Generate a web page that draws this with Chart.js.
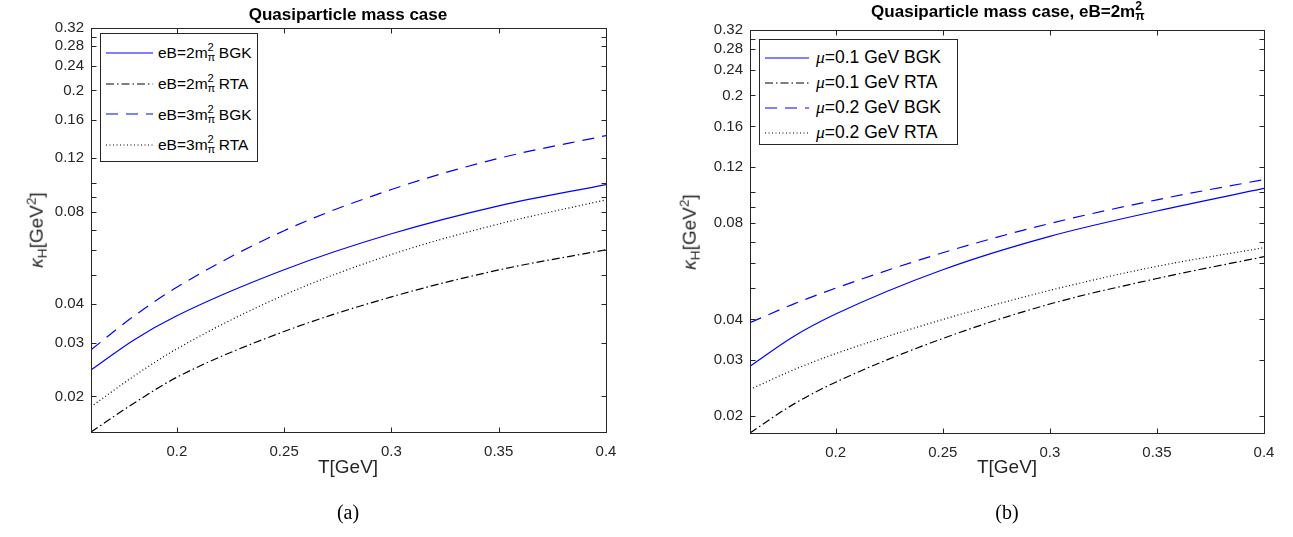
<!doctype html>
<html lang="en">

<head>
    <meta charset="utf-8">
    <title>Quasiparticle mass case</title>
    <script src="https://cdn.jsdelivr.net/npm/chart.js"></script>
    <style>
        body { margin: 0; background: #fff; font-family: "Liberation Sans", Arial, sans-serif; color: #262626; }
        #wrap { position: relative; width: 1293px; height: 537px; overflow: hidden; background: #fff; }
        canvas { position: absolute; top: 0; }
        .txt { position: absolute; white-space: nowrap; line-height: 1; }
        .title { font-weight: bold; font-size: 17px; color: #000; transform: translateX(-50%); }
        .xlab { font-size: 19px; transform: translateX(-50%); }
        .ylab { font-size: 19px; transform: translate(-50%, -50%) rotate(-90deg); }
        .cap { font-family: "Liberation Serif", serif; font-size: 20px; color: #000; transform: translateX(-50%); }
        .legend { position: absolute; box-sizing: border-box; border: 1px solid #262626; background: #fff; color: #000; line-height: 1; }
        .legend .row { position: absolute; left: 5px; display: flex; align-items: center; white-space: nowrap; }
        .legend svg { display: block; }
        .ss { display: inline-block; position: relative; width: .45em; height: 0; }
        .ss .sp, .ss .sb { position: absolute; left: 0; font-size: .72em; line-height: 1; }
        .ss .sp { bottom: .43em; }
        .ss .sb { top: -.54em; }
        .mu { font-family: "Liberation Serif", serif; font-style: italic; }
        sub.h { font-size: .72em; vertical-align: -.3em; }
        sup.g { font-size: .72em; vertical-align: .5em; }
    </style>
</head>

<body>
    <div id="wrap">
        <canvas id="chartA" width="650" height="537" style="left:0"></canvas>
        <canvas id="chartB" width="643" height="537" style="left:650px"></canvas>
    </div>

    <script>
        // temperature grid (GeV)
        const temps = [0.16, 0.18, 0.2, 0.25, 0.3, 0.35, 0.4];

        // panel (a): kappa_H for eB = 2 and 3 m_pi^2
        const bgk2 = [0.0244, 0.0306, 0.0367, 0.0519, 0.0680, 0.0839, 0.0985];
        const rta2 = [0.0153, 0.0190, 0.0231, 0.0326, 0.0423, 0.0518, 0.0603];
        const bgk3 = [0.0284, 0.0366, 0.0455, 0.0696, 0.0949, 0.1200, 0.1424];
        const rta3 = [0.0185, 0.0233, 0.0286, 0.0429, 0.0582, 0.0732, 0.0878];

        // panel (b): kappa_H for mu = 0.1 and 0.2 GeV
        const bgkMu1 = [0.0286, 0.0353, 0.0416, 0.0572, 0.0727, 0.0872, 0.1026];
        const rtaMu1 = [0.0177, 0.0217, 0.0255, 0.0349, 0.0447, 0.0537, 0.0628];
        const bgkMu2 = [0.0391, 0.0446, 0.0501, 0.0646, 0.0797, 0.0945, 0.1093];
        const rtaMu2 = [0.0242, 0.0278, 0.0313, 0.0400, 0.0493, 0.0586, 0.0670];

        const xTicks = [0.2, 0.25, 0.3, 0.35, 0.4];
        const yTicks = [0.02, 0.03, 0.04, 0.05, 0.06, 0.07, 0.08, 0.09, 0.1, 0.12, 0.16, 0.2, 0.24, 0.28, 0.3, 0.32];
        const yTickLabels = [0.02, 0.03, 0.04, 0.08, 0.12, 0.16, 0.2, 0.24, 0.28, 0.32];

        const ss = (a, b) => `<span class="ss"><span class="sp">${a}</span><span class="sb">${b}</span></span>`;
        const legendA = [`eB=2m${ss('2', 'π')} BGK`, `eB=2m${ss('2', 'π')} RTA`, `eB=3m${ss('2', 'π')} BGK`, `eB=3m${ss('2', 'π')} RTA`];
        const legendB = ['<i class="mu">μ</i>=0.1 GeV BGK', '<i class="mu">μ</i>=0.1 GeV RTA', '<i class="mu">μ</i>=0.2 GeV BGK', '<i class="mu">μ</i>=0.2 GeV RTA'];

        const AX = '#262626';
        Chart.defaults.font.family = '"Liberation Sans", Arial, sans-serif';

        const styles = [
            { borderColor: '#0000ff', borderDash: [] },
            { borderColor: '#000000', borderDash: [8, 3, 1.5, 3] },
            { borderColor: '#0000ff', borderDash: [12, 8] },
            { borderColor: '#000000', borderDash: [1, 2.5] },
        ];

        // box round the plot plus inward ticks on all four sides
        const matlabBox = {
            id: 'matlabBox',
            afterDatasetsDraw(chart) {
                const { ctx, chartArea: a, scales: { x, y } } = chart;
                ctx.save();
                ctx.strokeStyle = AX;
                ctx.lineWidth = 1;
                const l = Math.round(a.left) + 0.5, r = Math.round(a.right) + 0.5;
                const t = Math.round(a.top) + 0.5, b = Math.round(a.bottom) + 0.5;
                ctx.strokeRect(l, t, r - l, b - t);
                ctx.beginPath();
                x.ticks.forEach(tk => {
                    const px = Math.round(x.getPixelForValue(tk.value)) + 0.5;
                    ctx.moveTo(px, b); ctx.lineTo(px, b - 5);
                    ctx.moveTo(px, t); ctx.lineTo(px, t + 5);
                });
                y.ticks.forEach(tk => {
                    const py = Math.round(y.getPixelForValue(tk.value)) + 0.5;
                    ctx.moveTo(l, py); ctx.lineTo(l + 5, py);
                    ctx.moveTo(r, py); ctx.lineTo(r - 5, py);
                });
                ctx.stroke();
                ctx.restore();
            }
        };

        function makePanel(id, series, names, area, yMin) {
            const canvas = document.getElementById(id);
            const W = canvas.width, H = canvas.height;
            const xH = 40;
            return new Chart(canvas, {
                type: 'line',
                data: {
                    labels: temps,
                    datasets: series.map((s, i) => ({
                        label: names[i],
                        data: temps.map((t, j) => ({ x: t, y: s[j] })),
                        borderColor: styles[i].borderColor,
                        borderDash: styles[i].borderDash,
                        borderWidth: 1.2,
                        pointRadius: 0,
                        fill: false,
                        cubicInterpolationMode: 'monotone'
                    }))
                },
                options: {
                    responsive: false,
                    animation: false,
                    devicePixelRatio: 1,
                    layout: { padding: { left: 0, top: area.top, right: W - area.right, bottom: H - area.bottom - xH } },
                    plugins: { legend: { display: false }, tooltip: { enabled: false } },
                    scales: {
                        x: {
                            type: 'linear', min: 0.16, max: 0.4,
                            afterBuildTicks: s => { s.ticks = xTicks.map(v => ({ value: v })); },
                            afterFit: s => { s.height = xH; },
                            grid: { display: false, drawTicks: false },
                            border: { display: false },
                            ticks: { color: AX, font: { size: 15 }, padding: 11, maxRotation: 0, autoSkip: false, callback: v => String(v) }
                        },
                        y: {
                            type: 'logarithmic', min: yMin, max: 0.32,
                            afterBuildTicks: s => { s.ticks = yTicks.map(v => ({ value: v })); },
                            afterFit: s => { s.width = area.left; },
                            grid: { display: false, drawTicks: false },
                            border: { display: false },
                            ticks: { color: AX, font: { size: 15 }, padding: 7, autoSkip: false, callback: v => yTickLabels.includes(v) ? String(v) : '' }
                        }
                    }
                },
                plugins: [matlabBox]
            });
        }

        const wrap = document.getElementById('wrap');

        function addText(cls, html, x, y) {
            const el = document.createElement('div');
            el.className = 'txt ' + cls;
            el.innerHTML = html;
            el.style.left = x + 'px';
            el.style.top = y + 'px';
            wrap.appendChild(el);
        }

        // legend built from the chart's own datasets
        function addLegend(chart, names, g) {
            const el = document.createElement('div');
            el.className = 'legend';
            Object.assign(el.style, { left: g.left + 'px', top: g.top + 'px', width: g.w + 'px', height: g.h + 'px', fontSize: g.font + 'px' });
            chart.data.datasets.forEach((ds, i) => {
                const row = document.createElement('div');
                row.className = 'row';
                row.style.top = (g.first + i * g.step - 10) + 'px';
                row.style.height = '20px';
                row.innerHTML = `<svg width="${g.len}" height="4"><line x1="0" y1="2" x2="${g.len}" y2="2" stroke="${ds.borderColor}" stroke-width="${ds.borderWidth}" stroke-dasharray="${ds.borderDash.join(' ')}"/></svg><span style="margin-left:${g.gap}px">${names[i]}</span>`;
                el.appendChild(row);
            });
            wrap.appendChild(el);
        }

        const chartA = makePanel('chartA', [bgk2, rta2, bgk3, rta3], ['eB=2m_pi^2 BGK', 'eB=2m_pi^2 RTA', 'eB=3m_pi^2 BGK', 'eB=3m_pi^2 RTA'],
            { left: 91, right: 606, top: 28, bottom: 432 }, 0.0153);
        const chartB = makePanel('chartB', [bgkMu1, rtaMu1, bgkMu2, rtaMu2], ['mu=0.1 GeV BGK', 'mu=0.1 GeV RTA', 'mu=0.2 GeV BGK', 'mu=0.2 GeV RTA'],
            { left: 100, right: 614, top: 30, bottom: 433 }, 0.0177);

        addLegend(chartA, legendA, { left: 100, top: 33, w: 158, h: 129, font: 15.5, first: 19, step: 30.7, len: 47, gap: 5 });
        addLegend(chartB, legendB, { left: 759, top: 39, w: 199, h: 106, font: 17.5, first: 18, step: 25, len: 44, gap: 7 });

        addText('title', 'Quasiparticle mass case', 348, 6);
        addText('title', `Quasiparticle mass case, eB=2m${ss('2', 'π')}`, 1007, 3);
        addText('xlab', 'T[GeV]', 348, 457);
        addText('xlab', 'T[GeV]', 1007, 457);
        addText('ylab', '<i>κ</i><sub class="h">H</sub>[GeV<sup class="g">2</sup>]', 37, 230);
        addText('ylab', '<i>κ</i><sub class="h">H</sub>[GeV<sup class="g">2</sup>]', 690, 232);
        addText('cap', '(a)', 348, 502);
        addText('cap', '(b)', 1007, 502);
    </script>
</body>

</html>
